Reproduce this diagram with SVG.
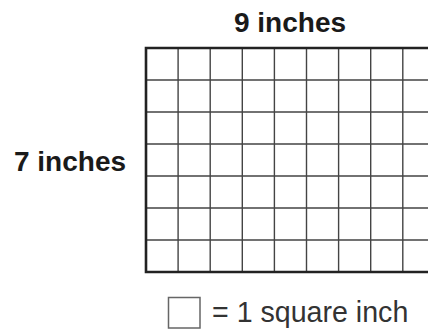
<svg xmlns="http://www.w3.org/2000/svg" width="428" height="331" viewBox="0 0 428 331">
<style>
.lbl{font-family:"Liberation Sans",Arial,sans-serif;font-weight:bold;font-size:28px;fill:#1a1a1a}
.leg{font-family:"Liberation Sans",Arial,sans-serif;font-size:28.6px;fill:#333}
.in{stroke:#444;stroke-width:1.4;fill:none}
.out{stroke:#222;stroke-width:2.6;fill:none}
</style>
<rect width="428" height="331" fill="#fff"/>
<g id="grid">
<g class="in">
<path d="M178.1 48V272M210.2 48V272M242.3 48V272M274.4 48V272M306.5 48V272M338.6 48V272M370.7 48V272M402.8 48V272"/>
<path d="M146 80H428M146 112H428M146 144H428M146 176H428M146 208H428M146 240H428"/>
</g>
<path class="out" d="M428 48H146V272H428"/>
</g>
<text id="top-label" class="lbl" x="290" y="31.5" text-anchor="middle">9 inches</text>
<text id="side-label" class="lbl" x="70" y="171" text-anchor="middle">7 inches</text>
<g id="legend">
<rect x="168.5" y="297.5" width="31.5" height="30.5" fill="none" stroke="#666" stroke-width="1.5"/>
<text class="leg" x="212" y="321.5">= 1 square inch</text>
</g>
</svg>
